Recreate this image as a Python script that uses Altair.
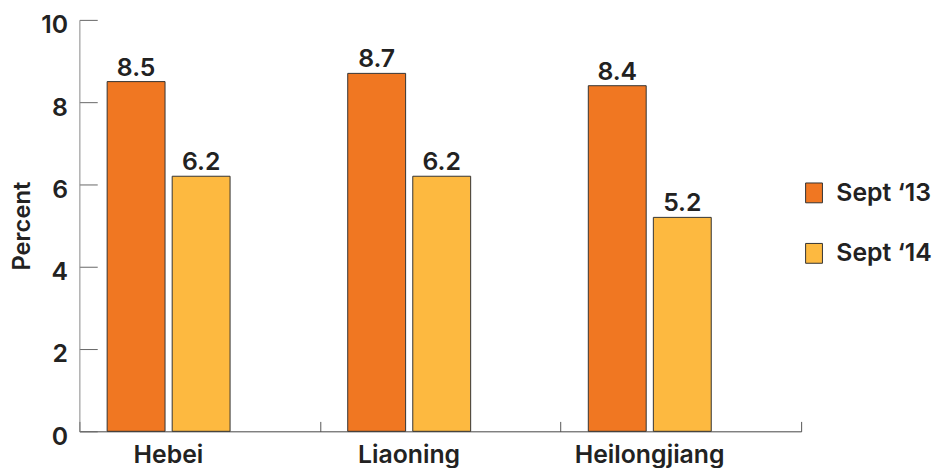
import altair as alt
import pandas as pd

categories = ["Hebei", "Liaoning", "Heilongjiang"]
series = ["Sept \u201813", "Sept \u201814"]
sept13 = [8.5, 8.7, 8.4]
sept14 = [6.2, 6.2, 5.2]
colors = ["#F07722", "#FDB940"]
y_ticks = [0, 2, 4, 6, 8, 10]

rows = []
for c, a, b in zip(categories, sept13, sept14):
    rows.append({"category": c, "series": series[0], "value": a})
    rows.append({"category": c, "series": series[1], "value": b})
df = pd.DataFrame(rows)

FONT = "Inter"
WEIGHT = 600
FS = 25

x_enc = alt.X(
    "category:N",
    sort=categories,
    title=None,
    scale=alt.Scale(domain=categories, paddingInner=0, paddingOuter=0),
    axis=alt.Axis(
        tickBand="extent",
        tickSize={"expr": "-10"},
        tickColor="#555",
        domainColor="#444",
        labelOffset=-32,
        labelPadding=21,
        labelAngle=0,
        labelFontSize=FS,
        labelFont=FONT,
        labelFontWeight=WEIGHT,
        labelColor="#222",
    ),
)
xoff_enc = alt.XOffset(
    "series:N",
    sort=series,
    scale=alt.Scale(domain=series, range=[28, 152], paddingInner=0.11, paddingOuter=0),
)
y_enc = alt.Y(
    "value:Q",
    title="Percent",
    scale=alt.Scale(domain=[0, 10], nice=False),
    axis=alt.Axis(
        values=y_ticks,
        grid=False,
        tickSize={"expr": "-18"},
        tickColor="#666",
        domainColor="#888",
        labelPadding=30,
        labelOffset=5,
        labelFontSize=FS,
        labelFont=FONT,
        labelFontWeight=WEIGHT,
        labelColor="#222",
        titleFontSize=24,
        titleFont=FONT,
        titleFontWeight=WEIGHT,
        titleColor="#222",
        titlePadding=6,
    ),
)

base = alt.Chart(df)

bars = base.mark_bar(stroke="#333", strokeWidth=1).encode(
    x=x_enc,
    xOffset=xoff_enc,
    y=y_enc,
    color=alt.Color(
        "series:N",
        sort=series,
        scale=alt.Scale(domain=series, range=colors),
        legend=alt.Legend(
            title=None,
            orient="none",
            legendX=728.5,
            legendY=162,
            symbolType="M-0.85,-1L0.85,-1L0.85,1L-0.85,1Z",
            symbolSize=400,
            symbolStrokeColor="#333",
            symbolStrokeWidth=1,
            symbolOpacity=1,
            labelFontSize=FS,
            labelFont=FONT,
            labelFontWeight=WEIGHT,
            labelColor="#222",
            labelOffset=10,
            rowPadding=35,
            padding=0,
        ),
    ),
)

labels = base.mark_text(
    baseline="alphabetic",
    dy=-6,
    fontSize=FS,
    font=FONT,
    fontWeight=WEIGHT,
    color="#222",
).encode(
    x=alt.X("category:N", sort=categories),
    xOffset=alt.XOffset("series:N", sort=series),
    y=alt.Y("value:Q"),
    text=alt.Text("value:Q", format=".1f"),
)

chart = (
    alt.layer(bars, labels)
    .properties(
        width=728,
        height=415,
        padding={"left": 72, "top": 10, "right": 132, "bottom": 35},
        autosize=alt.AutoSizeParams(type="none"),
    )
    .configure_view(stroke=None)
)

chart.save("out.html", embed_options={"renderer": "svg", "actions": False})
